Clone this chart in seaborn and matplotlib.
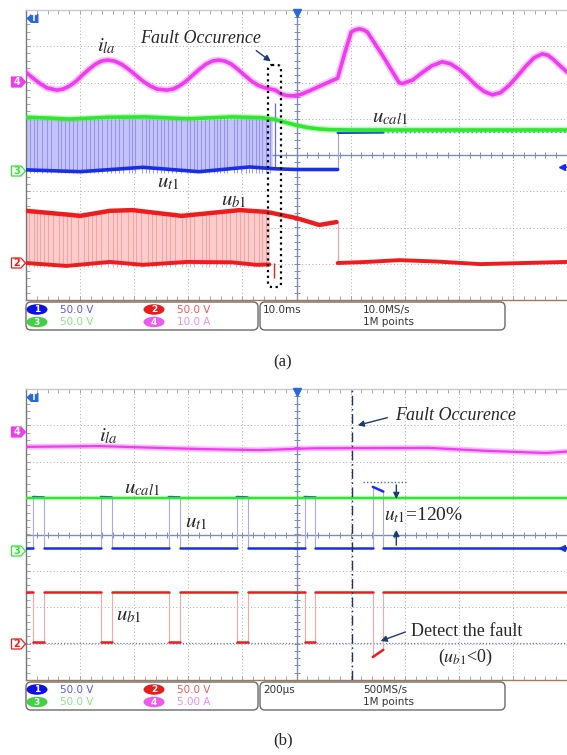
import numpy as np
import pandas as pd
import matplotlib
matplotlib.use('Agg')
import matplotlib.pyplot as plt
from matplotlib.patches import FancyBboxPatch, Ellipse, Polygon
import seaborn as sns

# ---------------- panel (a): time in ms (10 ms/div), traces in screen divisions ----------------
t_ila_a = [0, 1.3, 2.6, 3.9, 5.7, 6.9, 8.1, 9.3, 10.4, 11.6, 12.8, 13.9, 15.1,
           16.4, 17.7, 19.0, 20.3, 21.6, 22.9, 24.2, 26.0, 27.2, 28.4, 29.6, 30.8, 32.0, 33.2, 34.4, 35.6,
           36.8, 38.0, 39.2, 40.4, 41.6, 42.8, 44.0, 45.2, 46.1, 47.2, 48.2, 49.3, 50.8, 52.4, 55.2, 57.6,
           58.9, 60.1, 60.8, 61.6, 62.4, 63.1, 64.6, 66.1, 67.6, 69.0, 69.7, 70.3, 71.5, 73.2, 75.0, 76.9,
           78.4, 80.1, 81.6, 83.2, 84.7, 86.2, 87.7, 89.3, 90.8, 92.4, 93.9, 95.4, 96.5, 97.6, 98.8, 100.0]
ila_a = [2.28, 2.12, 1.97, 1.85, 1.79, 1.82, 1.91, 2.04, 2.20, 2.36, 2.50, 2.59, 2.62,
         2.59, 2.50, 2.36, 2.20, 2.04, 1.91, 1.82, 1.79, 1.82, 1.91, 2.04, 2.20, 2.36, 2.50, 2.59, 2.62,
         2.59, 2.50, 2.36, 2.20, 2.05, 1.93, 1.86, 1.82, 1.79, 1.68, 1.64, 1.63, 1.67, 1.77, 1.96, 2.12,
         2.80, 3.39, 3.45, 3.48, 3.45, 3.39, 3.05, 2.70, 2.33, 1.99, 1.97, 2.01, 2.07, 2.27, 2.46, 2.57,
         2.52, 2.36, 2.16, 1.92, 1.75, 1.66, 1.72, 1.92, 2.17, 2.45, 2.68, 2.79, 2.75, 2.62, 2.45, 2.29]

t_ucal_a = [0, 4, 8, 15, 22, 30, 38, 43.5, 46, 48, 50, 52, 54, 56, 60, 100]
ucal_a = [1.04, 1.02, 0.99, 1.04, 1.05, 1.00, 1.05, 1.03, 0.98, 0.90, 0.82, 0.76, 0.72, 0.70, 0.69, 0.69]

t_ut1_a = [0, 10, 21.6, 32, 41.3, 46, 50, 57.6]
ut1_a = [-0.41, -0.46, -0.34, -0.46, -0.33, -0.38, -0.40, -0.40]
t_ut1_a_post = [57.6, 66, 100]
ut1_a_post = [0.61, 0.62, 0.63]

t_pwm_a = [0, 10, 21.6, 32, 41.3, 45.5]
pwm_top_a = [1.00, 0.97, 1.01, 0.96, 1.01, 1.00]
pwm_bot_a = [-0.41, -0.46, -0.34, -0.46, -0.33, -0.37]
blue_stripes_a = [0.8, 1.5, 2.1, 3.0, 3.8, 4.6, 5.9, 6.5, 7.2, 8.0, 8.7, 9.5, 10.3, 11.0, 11.8, 12.6,
                  13.3, 14.0, 15.0, 15.7, 16.4, 17.1, 17.9, 19.1, 19.6, 20.2, 21.5, 22.1, 22.8, 23.4,
                  24.2, 24.9, 25.5, 26.3, 27.0, 27.8, 28.6, 29.8, 30.4, 31.1, 31.7, 32.4, 33.0, 33.9,
                  34.7, 35.3, 35.9, 36.6, 37.2, 38.4, 39.0, 39.8, 40.6, 41.2, 41.8, 42.5, 43.1, 43.7,
                  44.4, 45.1]
spike_ut1_a = (46.0, 1.43)

t_ub1_a = [0, 8.1, 10.0, 15.5, 19.7, 28.8, 39.5, 44.5, 50.0, 54.2, 57.4]
ub1_a = [-1.54, -1.65, -1.68, -1.54, -1.52, -1.68, -1.52, -1.57, -1.74, -1.93, -1.85]
t_ub1_a_post = [57.6, 63.0, 69.0, 76.0, 84.0, 92.0, 100.0]
ub1_a_post = [-2.98, -2.95, -2.90, -2.94, -3.01, -2.98, -2.95]
t_ub1_low_a = [0, 7.5, 15.5, 21.6, 29.7, 38.0, 42.6, 45.0]
ub1_low_a = [-2.98, -3.06, -2.95, -3.03, -2.95, -2.96, -3.03, -3.02]
ub1_fill_top_a = [-1.54, -1.63, -1.54, -1.55, -1.66, -1.54, -1.56, -1.57]
red_stripes_a = [0.5, 1.4, 2.0, 2.6, 3.3, 4.1, 4.9, 6.1, 6.8, 7.6, 8.4, 9.6, 10.7, 11.5, 12.2, 13.0,
                 13.9, 15.2, 16.0, 16.8, 17.6, 18.9, 19.7, 20.4, 21.2, 22.6, 23.3, 24.0, 25.1, 25.9,
                 26.7, 27.5, 28.9, 29.6, 30.3, 31.0, 32.6, 33.2, 33.8, 35.1, 36.2, 37.0, 37.7, 38.9,
                 39.6, 40.3, 41.0, 42.2, 43.1, 43.7, 44.3]
spike_ub1_a = (45.8, -3.39)

# ---------------- panel (b): time in us (200 us/div) ----------------
t_ila_b = [0, 273, 494, 642, 863, 1059, 1491, 1701, 1923, 2000]
ila_b = [2.41, 2.43, 2.38, 2.35, 2.32, 2.37, 2.38, 2.30, 2.24, 2.28]
t_ucal_b = [0, 2000]
ucal_b = [0.99, 0.99]

rise_b = [26, 277, 528, 779, 1030, 1282]
fall_b = [66, 317, 568, 819, 1070, 1321]
ut1_base_b = -0.37
ut1_hi_start_b = [1.03, 1.03, 1.03, 1.03, 1.03, 1.31]
ut1_hi_end_b = [1.02, 1.02, 1.02, 1.02, 1.02, 1.18]
ub1_base_b = -1.58
ub1_lo_start_b = [-2.96, -2.96, -2.96, -2.96, -2.96, -3.37]
ub1_lo_end_b = [-2.96, -2.96, -2.96, -2.96, -2.96, -3.17]
ground_b = -2.98
fault_t_b = 1207
ref_b = ([1244, 1406], 1.44)

scales_a = ['50.0 V', '50.0 V', '50.0 V', '10.0 A']
scales_b = ['50.0 V', '50.0 V', '50.0 V', '5.00 A']
timebase = ['10.0ms', '200\u00b5s']
rates = ['10.0MS/s', '500MS/s']

MAG, GRN, BLU, RED = '#f03cf0', '#2ee82e', '#1a2ee8', '#ee1c1c'
BLU_L, RED_L = '#c3c3fa', '#fbcccc'
NAVY = '#1d3b6e'

sns.set_theme(style='white')
plt.rcParams['font.family'] = ['DejaVu Sans']
plt.rcParams['mathtext.fontset'] = 'stix'

W, H = 567, 755
fig = plt.figure(figsize=(W / 100, H / 100), dpi=100)


def px_axes(x0, y0, x1, y1):
    return fig.add_axes([x0 / W, 1 - y1 / H, (x1 - x0) / W, (y1 - y0) / H])


def scope_grid(ax, xmax):
    step = xmax / 10
    for i in range(1, 10):
        if i != 5:
            ax.axvline(i * step, color='#a9a9a9', lw=0.7, ls=(0, (1, 2.5)), zorder=0)
    for j in [-3, -2, -1, 1, 2, 3]:
        ax.axhline(j, color='#a9a9a9', lw=0.7, ls=(0, (1, 2.5)), zorder=0)
    ax.axvline(5 * step, color='#7d8db0', lw=1.0, zorder=0.5)
    ax.axhline(0, color='#7d8db0', lw=1.0, zorder=0.5)
    mx = np.arange(0, xmax + 1e-9, step / 5)
    my = np.arange(-4, 4.001, 0.2)
    ax.plot(mx, np.zeros_like(mx), ls='none', marker='|', ms=4, mew=0.7, color='#7d8db0', zorder=0.5)
    ax.plot(np.full_like(my, 5 * step), my, ls='none', marker='_', ms=4, mew=0.7, color='#7d8db0', zorder=0.5)
    ax.set_xticks([])
    ax.set_yticks([])
    ax.set_xticks(mx, minor=True)
    ax.set_yticks(my, minor=True)
    ax.tick_params(which='minor', direction='in', length=3, width=0.6, color='#999999',
                   top=True, bottom=True, left=True, right=False, labelbottom=False, labelleft=False)
    ax.spines['left'].set_color('#777777')
    ax.spines['bottom'].set_color('#9a7b5a')
    ax.spines['top'].set_color('#c8c8c8')
    ax.spines['right'].set_visible(False)
    for s in ax.spines.values():
        s.set_linewidth(1.0)


def line(ax, t, v, color, lw, alpha=1.0, z=3, ls='-'):
    df = pd.DataFrame({'t': t, 'v': v})
    sns.lineplot(data=df, x='t', y='v', sort=False, estimator=None, color=color,
                 lw=lw, alpha=alpha, ls=ls, zorder=z, ax=ax, solid_joinstyle='round')


def segments(ax, segs, color, lw, z=3, alpha=1.0):
    rows = []
    for k, (t, v) in enumerate(segs):
        for ti, vi in zip(t, v):
            rows.append((ti, vi, k))
    df = pd.DataFrame(rows, columns=['t', 'v', 'seg'])
    sns.lineplot(data=df, x='t', y='v', units='seg', estimator=None, sort=False,
                 color=color, lw=lw, alpha=alpha, zorder=z, ax=ax)


def pulse_parts(rise, fall, base, lvl0, lvl1, t_end):
    flat, hi, edges = [], [], []
    prev = 0
    for r, f, a, b in zip(rise, fall, lvl0, lvl1):
        flat.append(([prev, r], [base, base]))
        hi.append(([r, f], [a, b]))
        edges.append(([r, r], [base, a]))
        edges.append(([f, f], [b, base]))
        prev = f
    flat.append(([prev, t_end], [base, base]))
    return flat, hi, edges


# ---------------- panel (a) ----------------
ax_a = px_axes(26, 10, 567, 300)
ax_a.fill_between(t_pwm_a, pwm_bot_a, pwm_top_a, color=BLU_L, lw=0, zorder=1)
ax_a.vlines(blue_stripes_a, -0.5, 0.98, color='#8a8af2', lw=0.6, zorder=1.2)
ax_a.vlines(spike_ut1_a[0], -0.38, spike_ut1_a[1], color='#6a6af0', lw=0.9, zorder=1.2)
ax_a.fill_between(t_ub1_low_a, ub1_low_a, ub1_fill_top_a, color=RED_L, lw=0, zorder=1)
ax_a.vlines(red_stripes_a, -3.1, -1.58, color='#f39a9a', lw=0.6, zorder=1.2)
ax_a.vlines(spike_ub1_a[0], -2.98, spike_ub1_a[1], color=RED, lw=1.0, zorder=1.2)
ax_a.vlines(t_ut1_a_post[0], ut1_a[-1], ut1_a_post[0], color='#9a9af5', lw=0.8, zorder=1.2)
ax_a.vlines(t_ub1_a_post[0], ub1_a_post[0], ub1_a[-1], color='#f5a0a0', lw=0.8, zorder=1.2)

line(ax_a, t_ila_a, ila_a, MAG, 5.0, alpha=0.3)
line(ax_a, t_ila_a, ila_a, MAG, 2.6)
line(ax_a, t_ut1_a, ut1_a, BLU, 2.6, z=3)
line(ax_a, t_ut1_a_post[:2], ut1_a_post[:2], BLU, 1.6, z=2.5)
line(ax_a, t_ut1_a_post[1:], ut1_a_post[1:], BLU, 1.2, alpha=0.6, z=2.5, ls=':')
line(ax_a, t_ucal_a, ucal_a, GRN, 4.5, alpha=0.3, z=3.5)
line(ax_a, t_ucal_a, ucal_a, GRN, 2.6, z=3.6)
line(ax_a, t_ub1_low_a, ub1_low_a, RED, 2.8)
line(ax_a, t_ub1_a, ub1_a, RED, 3.2)
line(ax_a, t_ub1_a_post, ub1_a_post, RED, 2.8)
scope_grid(ax_a, 100)
ax_a.set_xlim(0, 100)
ax_a.set_ylim(-4, 4)
ax_a.set_xlabel('')
ax_a.set_ylabel('')

# ---------------- panel (b) ----------------
ax_b = px_axes(26, 389, 567, 680)
ax_b.axhline(ground_b, color='#6a7fb0', lw=0.9, ls=(0, (1, 1.5)), zorder=1)
ax_b.plot(ref_b[0], [ref_b[1], ref_b[1]], color='#4a6ab0', lw=1.0, ls=(0, (1, 1.5)), zorder=1)

line(ax_b, t_ila_b, ila_b, MAG, 4.0, alpha=0.35)
line(ax_b, t_ila_b, ila_b, MAG, 1.6)

flat, hi, edges = pulse_parts(rise_b, fall_b, ut1_base_b, ut1_hi_start_b, ut1_hi_end_b, 2000)
segments(ax_b, edges, '#a8a8f5', 0.8, z=1.5)
segments(ax_b, hi, BLU, 1.8, z=2)
segments(ax_b, flat, BLU, 1.8, z=3)

line(ax_b, t_ucal_b, ucal_b, GRN, 3.0, alpha=0.3, z=2.8)
line(ax_b, t_ucal_b, ucal_b, GRN, 1.6, z=2.9)

flat, lo, edges = pulse_parts(rise_b, fall_b, ub1_base_b, ub1_lo_start_b, ub1_lo_end_b, 2000)
segments(ax_b, edges, '#f5a8a8', 0.8, z=1.5)
segments(ax_b, lo, RED, 1.8, z=3)
segments(ax_b, flat, RED, 1.8, z=3)

ax_b.axvline(fault_t_b, color='#223355', lw=1.0, ls=(0, (7, 2.5, 1.2, 2.5)), zorder=6)
ax_b.annotate('', xy=(1369, 0.9), xytext=(1369, ref_b[1]),
              arrowprops=dict(arrowstyle='-|>', color=NAVY, lw=1.0, mutation_scale=9), zorder=7)
ax_b.annotate('', xy=(1369, 0.2), xytext=(1369, ut1_base_b),
              arrowprops=dict(arrowstyle='-|>', color=NAVY, lw=1.0, mutation_scale=9), zorder=7)
scope_grid(ax_b, 2000)
ax_b.set_xlim(0, 2000)
ax_b.set_ylim(-4, 4)
ax_b.set_xlabel('')
ax_b.set_ylabel('')

# ---------------- overlay in pixel coordinates ----------------
over = fig.add_axes([0, 0, 1, 1])
over.set_xlim(0, W)
over.set_ylim(H, 0)
over.axis('off')

serif = 'Liberation Serif'


def chan_tag(y, label, fill, edge, tcol):
    pts = [(11.5, y - 5), (21, y - 5), (25.5, y), (21, y + 5), (11.5, y + 5)]
    over.add_patch(Polygon(pts, closed=True, fc=fill, ec=edge, lw=0.9))
    over.text(16.5, y + 0.3, label, ha='center', va='center', fontsize=7, color=tcol, fontweight='bold')


def trig_marks(ytop, yright):
    pts = [(26.5, ytop + 8.5), (31, ytop + 4), (38.5, ytop + 4), (38.5, ytop + 13), (31, ytop + 13)]
    over.add_patch(Polygon(pts, closed=True, fc='#2a6ad8', ec='none'))
    over.text(33.5, ytop + 8.8, 'T', ha='center', va='center', fontsize=6, color='white', fontweight='bold')
    over.plot(297, ytop + 2.5, marker='v', ms=6, color='#2a6ad8', ls='none')
    over.plot(562, yright, marker='<', ms=4.5, color=BLU, ls='none')
    over.plot([562, 567], [yright, yright], color=BLU, lw=1.2)


def info_box(y0, scales, tb, rate):
    over.add_patch(FancyBboxPatch((26, y0), 232, 28, boxstyle='round,pad=0,rounding_size=5',
                                  fc='white', ec='#6a6a6a', lw=1.0))
    over.add_patch(FancyBboxPatch((260, y0), 245, 28, boxstyle='round,pad=0,rounding_size=5',
                                  fc='white', ec='#6a6a6a', lw=1.0))
    r1, r2 = y0 + 7.5, y0 + 20
    spec = [(37, r1, '1', '#1010e0', scales[0], '#5858f0'),
            (154, r1, '2', '#e81c1c', scales[1], '#f05a5a'),
            (37, r2, '3', '#44d044', scales[2], '#88e488'),
            (154, r2, '4', '#ee5aee', scales[3], '#ee8cee')]
    for cx, cy, num, fc, txt, tc in spec:
        over.add_patch(Ellipse((cx, cy), 21, 10.5, fc=fc, ec='none'))
        over.text(cx, cy + 0.3, num, ha='center', va='center', color='white', fontsize=6.5, fontweight='bold')
        over.text(cx + 23, cy + 0.3, txt, ha='left', va='center', color=tc, fontsize=7.5)
    over.text(263, r1 + 0.3, tb, ha='left', va='center', color='#333333', fontsize=7.5)
    over.text(363, r1 + 0.3, rate, ha='left', va='center', color='#333333', fontsize=7.5)
    over.text(363, r2 + 0.3, '1M points', ha='left', va='center', color='#333333', fontsize=7.5)


# panel (a) decorations
chan_tag(82, '4', MAG, MAG, 'white')
chan_tag(171, '3', 'white', GRN, GRN)
chan_tag(263, '2', 'white', RED, RED)
trig_marks(10, 167)
info_box(302, scales_a, timebase[0], rates[0])
over.text(283, 362, '(a)', ha='center', va='center', fontsize=12, family=serif)

over.text(201, 38.5, 'Fault Occurence', ha='center', va='center', fontsize=13, family=serif, style='italic')
over.annotate('', xy=(273, 63), xytext=(254, 49),
              arrowprops=dict(arrowstyle='-|>', color=NAVY, lw=1.0, mutation_scale=9))
over.add_patch(FancyBboxPatch((268, 65), 13, 222, boxstyle='round,pad=0,rounding_size=4',
                              fc='none', ec='black', lw=1.6, ls=(0, (1, 1.6))))
over.text(106, 46, r'$i_{la}$', ha='center', va='center', fontsize=15)
over.text(390, 117, r'$u_{cal1}$', ha='center', va='center', fontsize=15)
over.text(168, 182, r'$u_{t1}$', ha='center', va='center', fontsize=15)
over.text(234, 200, r'$u_{b1}$', ha='center', va='center', fontsize=15)

# panel (b) decorations
chan_tag(432, '4', MAG, MAG, 'white')
chan_tag(551, '3', 'white', GRN, GRN)
chan_tag(644, '2', 'white', RED, RED)
trig_marks(389, 548)
info_box(682, scales_b, timebase[1], rates[1])
over.text(283, 740, '(b)', ha='center', va='center', fontsize=12, family=serif)

over.text(456, 415, 'Fault Occurence', ha='center', va='center', fontsize=13, family=serif, style='italic')
over.annotate('', xy=(355, 426), xytext=(390, 417),
              arrowprops=dict(arrowstyle='-|>', color=NAVY, lw=1.0, mutation_scale=9))
over.text(424, 515, r'$u_{t1}$=120%', ha='center', va='center', fontsize=14, family=serif)
over.text(467, 632, 'Detect the fault', ha='center', va='center', fontsize=13, family=serif)
over.text(465, 657, r'($u_{b1}$<0)', ha='center', va='center', fontsize=13, family=serif)
over.annotate('', xy=(378, 642), xytext=(408, 631),
              arrowprops=dict(arrowstyle='-|>', color=NAVY, lw=1.0, mutation_scale=9))
over.text(108, 436, r'$i_{la}$', ha='center', va='center', fontsize=15)
over.text(142, 488, r'$u_{cal1}$', ha='center', va='center', fontsize=15)
over.text(196, 522, r'$u_{t1}$', ha='center', va='center', fontsize=15)
over.text(129, 615, r'$u_{b1}$', ha='center', va='center', fontsize=15)

fig.savefig('out.png', dpi=100)
